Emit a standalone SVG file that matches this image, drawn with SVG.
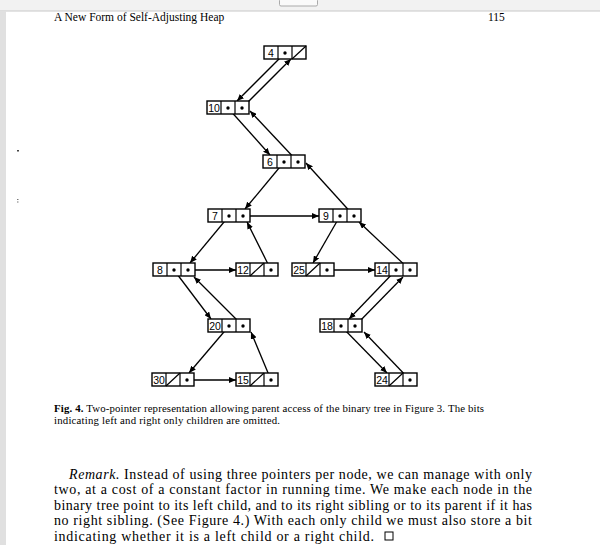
<svg xmlns="http://www.w3.org/2000/svg" width="600" height="545" viewBox="0 0 600 545">
<style>
.cell{fill:#fff;stroke:#000;stroke-width:1.4}
.div{stroke:#000;stroke-width:1.2}
.lbl{font-family:"Liberation Sans",Arial,sans-serif;font-size:10.5px;fill:#000;text-anchor:middle}
.dot{fill:#000}
.edge{stroke:#000;stroke-width:1.3;fill:none;marker-end:url(#ah)}
.serif{font-family:"Liberation Serif","Times New Roman",serif;fill:#000}
</style>
<defs>
<marker id="ah" markerUnits="userSpaceOnUse" markerWidth="8" markerHeight="6" refX="7" refY="3" orient="auto">
<path d="M0,0 L7,3 L0,6 Z" fill="#000"/>
</marker>
</defs>
<rect x="0" y="0" width="600" height="545" fill="#fff"/>
<rect x="0" y="0" width="600" height="11" fill="#f2f2f2"/>
<line x1="0" y1="11" x2="600" y2="11" stroke="#c8c8c8" stroke-width="1"/>
<rect x="279.5" y="-1" width="38" height="7" rx="1.5" fill="#fafafa" stroke="#aaa" stroke-width="1"/>
<rect x="0" y="11" width="6" height="534" fill="#e0e0e0"/>
<rect x="17" y="150" width="2" height="1.5" fill="#444"/>
<rect x="17" y="199" width="1.5" height="1" fill="#777"/>
<rect x="17" y="201.5" width="1.5" height="1" fill="#777"/>

<text class="serif" x="54" y="21" font-size="11.5">A New Form of Self-Adjusting Heap</text>
<text class="serif" x="488" y="21" font-size="11.5">115</text>

<g id="connectors">
<line class="edge" x1="285" y1="53" x2="237" y2="101"/>
<line class="edge" x1="242" y1="108" x2="291" y2="59"/>
<line class="edge" x1="228" y1="108" x2="270" y2="155"/>
<line class="edge" x1="298" y1="162" x2="250" y2="111"/>
<line class="edge" x1="284" y1="162" x2="245" y2="209"/>
<line class="edge" x1="243" y1="216" x2="319" y2="216"/>
<line class="edge" x1="354" y1="216" x2="306" y2="163"/>
<line class="edge" x1="229" y1="216" x2="190" y2="263"/>
<line class="edge" x1="271" y1="270" x2="247" y2="222"/>
<line class="edge" x1="340" y1="216" x2="313" y2="263"/>
<line class="edge" x1="410" y1="270" x2="359" y2="222"/>
<line class="edge" x1="188" y1="270" x2="236" y2="270"/>
<line class="edge" x1="327" y1="270" x2="375" y2="270"/>
<line class="edge" x1="174" y1="270" x2="211" y2="319"/>
<line class="edge" x1="243" y1="326" x2="194" y2="277"/>
<line class="edge" x1="396" y1="270" x2="349" y2="319"/>
<line class="edge" x1="355" y1="326" x2="403" y2="277"/>
<line class="edge" x1="229" y1="326" x2="189" y2="373"/>
<line class="edge" x1="187" y1="380" x2="236" y2="380"/>
<line class="edge" x1="271" y1="380" x2="251" y2="332"/>
<line class="edge" x1="341" y1="326" x2="387" y2="373"/>
<line class="edge" x1="410" y1="380" x2="364" y2="332"/>
</g>

<g id="n4" transform="translate(264,46)">
<rect class="cell" width="42" height="13"/><line class="div" x1="14" y1="0" x2="14" y2="13"/><line class="div" x1="28" y1="0" x2="28" y2="13"/>
<text class="lbl" x="7" y="10.8">4</text><circle class="dot" cx="21" cy="7" r="1.7"/><line class="div" x1="28" y1="13" x2="42" y2="0"/>
</g>
<g id="n10" transform="translate(207,101)">
<rect class="cell" width="42" height="13"/><line class="div" x1="14" y1="0" x2="14" y2="13"/><line class="div" x1="28" y1="0" x2="28" y2="13"/>
<text class="lbl" x="7" y="10.8">10</text><circle class="dot" cx="21" cy="7" r="1.7"/><circle class="dot" cx="35" cy="7" r="1.7"/>
</g>
<g id="n6" transform="translate(263,155)">
<rect class="cell" width="42" height="13"/><line class="div" x1="14" y1="0" x2="14" y2="13"/><line class="div" x1="28" y1="0" x2="28" y2="13"/>
<text class="lbl" x="7" y="10.8">6</text><circle class="dot" cx="21" cy="7" r="1.7"/><circle class="dot" cx="35" cy="7" r="1.7"/>
</g>
<g id="n7" transform="translate(208,209)">
<rect class="cell" width="42" height="13"/><line class="div" x1="14" y1="0" x2="14" y2="13"/><line class="div" x1="28" y1="0" x2="28" y2="13"/>
<text class="lbl" x="7" y="10.8">7</text><circle class="dot" cx="21" cy="7" r="1.7"/><circle class="dot" cx="35" cy="7" r="1.7"/>
</g>
<g id="n9" transform="translate(319,209)">
<rect class="cell" width="42" height="13"/><line class="div" x1="14" y1="0" x2="14" y2="13"/><line class="div" x1="28" y1="0" x2="28" y2="13"/>
<text class="lbl" x="7" y="10.8">9</text><circle class="dot" cx="21" cy="7" r="1.7"/><circle class="dot" cx="35" cy="7" r="1.7"/>
</g>
<g id="n8" transform="translate(153,263)">
<rect class="cell" width="42" height="13"/><line class="div" x1="14" y1="0" x2="14" y2="13"/><line class="div" x1="28" y1="0" x2="28" y2="13"/>
<text class="lbl" x="7" y="10.8">8</text><circle class="dot" cx="21" cy="7" r="1.7"/><circle class="dot" cx="35" cy="7" r="1.7"/>
</g>
<g id="n12" transform="translate(236,263)">
<rect class="cell" width="42" height="13"/><line class="div" x1="14" y1="0" x2="14" y2="13"/><line class="div" x1="28" y1="0" x2="28" y2="13"/>
<text class="lbl" x="7" y="10.8">12</text><line class="div" x1="14" y1="13" x2="28" y2="0"/><circle class="dot" cx="35" cy="7" r="1.7"/>
</g>
<g id="n25" transform="translate(292,263)">
<rect class="cell" width="42" height="13"/><line class="div" x1="14" y1="0" x2="14" y2="13"/><line class="div" x1="28" y1="0" x2="28" y2="13"/>
<text class="lbl" x="7" y="10.8">25</text><line class="div" x1="14" y1="13" x2="28" y2="0"/><circle class="dot" cx="35" cy="7" r="1.7"/>
</g>
<g id="n14" transform="translate(375,263)">
<rect class="cell" width="42" height="13"/><line class="div" x1="14" y1="0" x2="14" y2="13"/><line class="div" x1="28" y1="0" x2="28" y2="13"/>
<text class="lbl" x="7" y="10.8">14</text><circle class="dot" cx="21" cy="7" r="1.7"/><circle class="dot" cx="35" cy="7" r="1.7"/>
</g>
<g id="n20" transform="translate(208,319)">
<rect class="cell" width="42" height="13"/><line class="div" x1="14" y1="0" x2="14" y2="13"/><line class="div" x1="28" y1="0" x2="28" y2="13"/>
<text class="lbl" x="7" y="10.8">20</text><circle class="dot" cx="21" cy="7" r="1.7"/><circle class="dot" cx="35" cy="7" r="1.7"/>
</g>
<g id="n18" transform="translate(320,319)">
<rect class="cell" width="42" height="13"/><line class="div" x1="14" y1="0" x2="14" y2="13"/><line class="div" x1="28" y1="0" x2="28" y2="13"/>
<text class="lbl" x="7" y="10.8">18</text><circle class="dot" cx="21" cy="7" r="1.7"/><circle class="dot" cx="35" cy="7" r="1.7"/>
</g>
<g id="n30" transform="translate(152,373)">
<rect class="cell" width="42" height="13"/><line class="div" x1="14" y1="0" x2="14" y2="13"/><line class="div" x1="28" y1="0" x2="28" y2="13"/>
<text class="lbl" x="7" y="10.8">30</text><line class="div" x1="14" y1="13" x2="28" y2="0"/><circle class="dot" cx="35" cy="7" r="1.7"/>
</g>
<g id="n15" transform="translate(236,373)">
<rect class="cell" width="42" height="13"/><line class="div" x1="14" y1="0" x2="14" y2="13"/><line class="div" x1="28" y1="0" x2="28" y2="13"/>
<text class="lbl" x="7" y="10.8">15</text><line class="div" x1="14" y1="13" x2="28" y2="0"/><circle class="dot" cx="35" cy="7" r="1.7"/>
</g>
<g id="n24" transform="translate(375,373)">
<rect class="cell" width="42" height="13"/><line class="div" x1="14" y1="0" x2="14" y2="13"/><line class="div" x1="28" y1="0" x2="28" y2="13"/>
<text class="lbl" x="7" y="10.8">24</text><line class="div" x1="14" y1="13" x2="28" y2="0"/><circle class="dot" cx="35" cy="7" r="1.7"/>
</g>

<text class="serif" x="54" y="412" font-size="10.8" textLength="430" lengthAdjust="spacing"><tspan font-weight="bold">Fig. 4.</tspan> Two-pointer representation allowing parent access of the binary tree in Figure 3. The bits</text>
<text class="serif" x="54" y="424" font-size="10.8" textLength="226" lengthAdjust="spacing">indicating left and right only children are omitted.</text>

<text class="serif" x="69" y="478.5" font-size="14" textLength="463" lengthAdjust="spacing"><tspan font-style="italic">Remark.</tspan> Instead of using three pointers per node, we can manage with only</text>
<text class="serif" x="54" y="494" font-size="14" textLength="478" lengthAdjust="spacing">two, at a cost of a constant factor in running time. We make each node in the</text>
<text class="serif" x="54" y="509.5" font-size="14" textLength="478" lengthAdjust="spacing">binary tree point to its left child, and to its right sibling or to its parent if it has</text>
<text class="serif" x="54" y="525" font-size="14" textLength="478" lengthAdjust="spacing">no right sibling. (See Figure 4.) With each only child we must also store a bit</text>
<text class="serif" x="54" y="540.5" font-size="14" textLength="320" lengthAdjust="spacing">indicating whether it is a left child or a right child.</text>
<rect x="385" y="532" width="8" height="8" fill="none" stroke="#000" stroke-width="1"/>
</svg>
